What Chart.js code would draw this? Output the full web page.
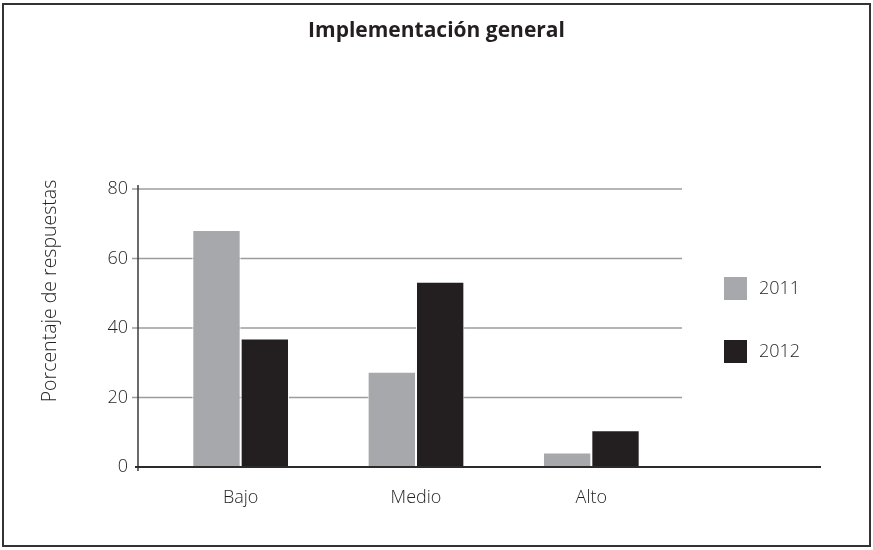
<!DOCTYPE html>
<html>
<head>
<meta charset="utf-8">
<script src="https://cdn.jsdelivr.net/npm/chart.js@4"></script>
<style>
  html, body { margin: 0; padding: 0; background: #fff; }
  #wrap { width: 873px; height: 550px; }
</style>
</head>
<body>
<div id="wrap"><canvas id="chart" width="873" height="550"></canvas></div>
<script>
// --- DATA ---
const categories = ["Bajo", "Medio", "Alto"];
const values2011 = [68.2, 27.4, 4.2];
const values2012 = [37.0, 53.3, 10.6];
const seriesNames = ["2011", "2012"];
const yTicks = [0, 20, 40, 60, 80];

const FONT = "'Open Sans', 'Noto Sans', sans-serif";
const GRAY = "#a7a8ab";
const DARK = "#231f20";

// frame, grid, axis lines, legend and y title drawn by hand
const framePlugin = {
  id: "frame",
  beforeDraw(chart) {
    const ctx = chart.ctx;
    ctx.save();
    ctx.fillStyle = "#fff";
    ctx.fillRect(0, 0, chart.width, chart.height);
    ctx.restore();
  },
  beforeDatasetsDraw(chart) {
    const ctx = chart.ctx;
    const y = chart.scales.y;
    ctx.save();
    ctx.strokeStyle = "#9c9c9c";
    ctx.lineWidth = 1.5;
    yTicks.forEach(v => {
      if (v === 0) return;
      const py = y.getPixelForValue(v);
      ctx.beginPath();
      ctx.moveTo(132, py);
      ctx.lineTo(682, py);
      ctx.stroke();
    });
    ctx.restore();
  },
  afterDatasetsDraw(chart) {
    const ctx = chart.ctx;
    const y = chart.scales.y;
    const base = y.getPixelForValue(0);
    ctx.save();
    // y axis line
    ctx.strokeStyle = "#3a3a3a";
    ctx.lineWidth = 1.5;
    ctx.beginPath();
    ctx.moveTo(138, y.getPixelForValue(80) - 4);
    ctx.lineTo(138, base + 4);
    ctx.stroke();
    // baseline
    ctx.strokeStyle = "#2b2b2b";
    ctx.lineWidth = 2;
    ctx.beginPath();
    ctx.moveTo(135, base);
    ctx.lineTo(821, base);
    ctx.stroke();

    // y axis title
    ctx.fillStyle = DARK;
    ctx.font = "300 19.5px " + FONT;
    ctx.textAlign = "center";
    ctx.textBaseline = "middle";
    ctx.translate(50, 291);
    ctx.rotate(-Math.PI / 2);
    ctx.fillText("Porcentaje de respuestas", 0, 0);
    ctx.restore();

    // legend
    ctx.save();
    ctx.font = "300 18px " + FONT;
    ctx.textAlign = "left";
    ctx.textBaseline = "middle";
    chart.data.datasets.forEach((ds, i) => {
      const top = 277 + i * 63;
      ctx.fillStyle = ds.backgroundColor;
      ctx.fillRect(724, top, 23, 23);
      ctx.fillStyle = DARK;
      ctx.fillText(ds.label, 759, top + 12);
    });
    ctx.restore();

    // outer frame
    ctx.save();
    ctx.strokeStyle = "#333";
    ctx.lineWidth = 2;
    ctx.strokeRect(3, 4, 867, 542);
    ctx.restore();
  }
};

const chart = new Chart(document.getElementById("chart"), {
  type: "bar",
  data: {
    labels: categories,
    datasets: [
      { label: seriesNames[0], data: values2011, backgroundColor: GRAY, borderColor: "#fff", borderWidth: 1 },
      { label: seriesNames[1], data: values2012, backgroundColor: DARK, borderColor: "#fff", borderWidth: 1 }
    ]
  },
  options: {
    responsive: false,
    animation: false,
    layout: { padding: 0 },
    datasets: {
      bar: { categoryPercentage: 0.5515, barPercentage: 1 }
    },
    plugins: {
      legend: { display: false },
      tooltip: { enabled: false },
      title: {
        display: true,
        text: "Implementación general",
        color: DARK,
        font: { family: FONT, size: 21, weight: "bold" },
        padding: { top: 18, bottom: 145.8 }
      }
    },
    scales: {
      x: {
        grid: { display: false, drawTicks: false },
        border: { display: false },
        ticks: { color: DARK, font: { family: FONT, size: 18, weight: 300 }, padding: 20 },
        afterFit(scale) { scale.height = 83; }
      },
      y: {
        min: 0,
        max: 80,
        grid: { display: false, drawTicks: false },
        border: { display: false },
        afterBuildTicks(scale) { scale.ticks = yTicks.map(v => ({ value: v })); },
        ticks: { color: DARK, font: { family: FONT, size: 18, weight: 300 }, padding: 25 },
        afterFit(scale) { scale.width = 153; }
      },
      // empty right-hand box that keeps room for the legend
      yRight: {
        position: "right",
        min: 0,
        max: 80,
        grid: { display: false, drawTicks: false },
        border: { display: false },
        ticks: { display: false },
        afterFit(scale) { scale.width = 194; }
      }
    }
  },
  plugins: [framePlugin]
});
</script>
</body>
</html>
